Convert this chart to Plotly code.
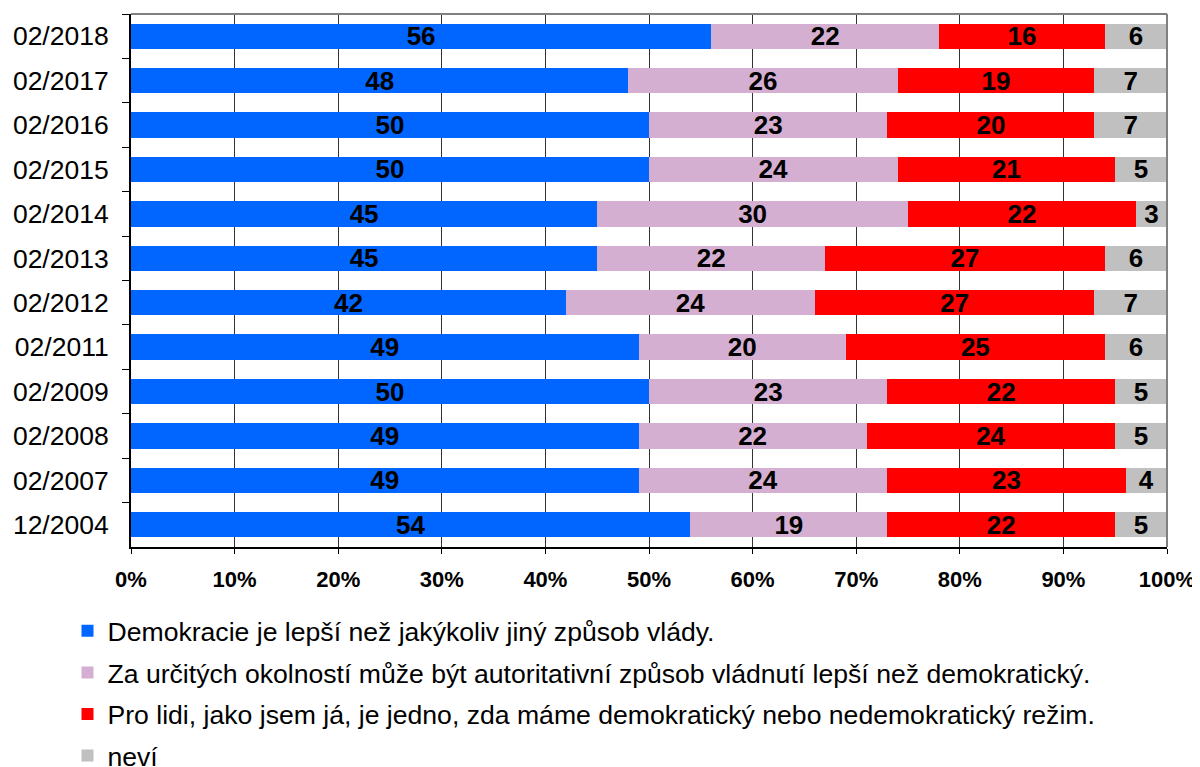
import plotly.graph_objects as go

periods = ["02/2018", "02/2017", "02/2016", "02/2015", "02/2014", "02/2013",
           "02/2012", "02/2011", "02/2009", "02/2008", "02/2007", "12/2004"]
demokracie = [56, 48, 50, 50, 45, 45, 42, 49, 50, 49, 49, 54]
autoritativni = [22, 26, 23, 24, 30, 22, 24, 20, 23, 22, 24, 19]
jedno = [16, 19, 20, 21, 22, 27, 27, 25, 22, 24, 23, 22]
nevi = [6, 7, 7, 5, 3, 6, 7, 6, 5, 5, 4, 5]

series_names = [
    "Demokracie je lepší než jakýkoliv jiný způsob vlády.",
    "Za určitých okolností může být autoritativní způsob vládnutí lepší než demokratický.",
    "Pro lidi, jako jsem já, je jedno, zda máme demokratický nebo nedemokratický režim.",
    "neví",
]
series_values = [demokracie, autoritativni, jedno, nevi]
series_colors = ["#0066FF", "#D4AFD1", "#FF0000", "#C0C0C0"]
x_ticks = [0, 10, 20, 30, 40, 50, 60, 70, 80, 90, 100]
x_tick_labels = [f"{v}%" for v in x_ticks]

fig = go.Figure()
for i, (name, vals, col) in enumerate(zip(series_names, series_values, series_colors)):
    fig.add_trace(go.Bar(
        y=periods, x=vals, name=name, orientation="h",
        marker=dict(color=col, line=dict(width=0)),
        text=[str(v) for v in vals], textposition="inside",
        insidetextanchor="middle", constraintext="none", textangle=0,
        textfont=dict(family="Liberation Sans, Arial", size=26, color="black", weight="bold"),
        legendgroup=f"g{i}",
    ))

fig.update_layout(
    barmode="stack",
    bargap=0.43,
    width=1200, height=820,
    margin=dict(l=123, r=41, t=6, b=281),
    plot_bgcolor="white", paper_bgcolor="white",
    font=dict(family="Liberation Sans, Arial", color="black"),
    showlegend=True,
    legend=dict(
        orientation="v", x=-0.0613, xanchor="left", y=-0.1126, yanchor="top",
        font=dict(size=26.6, color="black"), traceorder="grouped",
        tracegroupgap=4, itemwidth=30,
    ),
    xaxis=dict(
        range=[0, 100], tickmode="array", tickvals=x_ticks, ticktext=x_tick_labels,
        showgrid=True, gridcolor="#333333", gridwidth=1,
        showline=True, linecolor="black", linewidth=2,
        ticks="outside", ticklen=5, tickcolor="black",
        tickfont=dict(size=22, weight="bold"), zeroline=False, automargin=False,
        ticklabelstandoff=7,
    ),
    yaxis=dict(
        autorange="reversed", showgrid=False,
        showline=True, linecolor="black", linewidth=2,
        ticks="outside", ticklen=7, tickcolor="black", tickson="boundaries",
        tickfont=dict(size=26.5), ticklabelstandoff=15, automargin=False,
    ),
    shapes=[
        dict(type="line", xref="paper", yref="paper", x0=0, x1=1, y0=1, y1=1,
             line=dict(color="#808080", width=2)),
        dict(type="line", xref="paper", yref="paper", x0=1, x1=1, y0=0, y1=1,
             line=dict(color="#808080", width=2)),
    ],
)

fig.write_html("out.html")
